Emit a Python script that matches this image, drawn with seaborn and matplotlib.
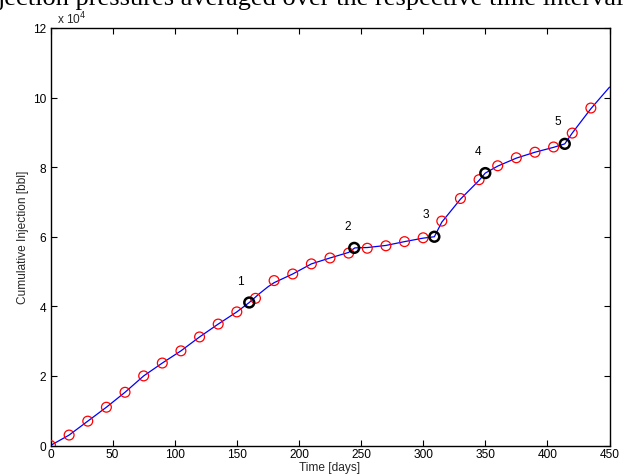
import numpy as np
import pandas as pd
import matplotlib
matplotlib.use("Agg")
import matplotlib.pyplot as plt
import seaborn as sns

# --- data (cumulative injection in units of 1e4 bbl) ---
red_t = [0, 15, 30, 45, 60, 75, 90, 105, 120, 135, 150, 165, 180, 195, 210, 225,
         240, 255, 270, 285, 300, 315, 330, 345, 360, 375, 390, 405, 420, 435]
red_y = [0.0, 0.30, 0.70, 1.10, 1.53, 2.00, 2.37, 2.72, 3.12, 3.49, 3.84, 4.23,
         4.74, 4.93, 5.22, 5.39, 5.53, 5.67, 5.74, 5.86, 5.97, 6.45, 7.10, 7.64,
         8.04, 8.27, 8.43, 8.58, 8.98, 9.70]

line_t = [0, 15, 30, 45, 60, 75, 90, 105, 120, 135, 150, 160, 168, 175, 180, 195,
          210, 225, 240, 245, 255, 270, 285, 300, 309, 315, 330, 345, 350, 360,
          375, 390, 405, 414, 420, 435, 450]
line_y = [0.0, 0.30, 0.70, 1.10, 1.53, 2.00, 2.37, 2.72, 3.12, 3.49, 3.84, 4.11,
          4.36, 4.56, 4.68, 4.93, 5.22, 5.39, 5.55, 5.68, 5.69, 5.75, 5.86, 5.96,
          6.00, 6.42, 7.08, 7.62, 7.83, 8.03, 8.26, 8.43, 8.57, 8.67, 8.98, 9.68,
          10.30]

black_t = [160, 244.5, 309, 350, 414]
black_y = [4.11, 5.68, 6.00, 7.83, 8.67]
black_lbl = ["1", "2", "3", "4", "5"]
lbl_t = [153, 239, 302, 344, 408]
lbl_y = [4.73, 6.30, 6.66, 8.46, 9.34]

x_ticks = [0, 50, 100, 150, 200, 250, 300, 350, 400, 450]
y_ticks = [0, 2, 4, 6, 8, 10, 12]

sns.set_style("white")
plt.rcParams["font.family"] = ["Liberation Sans", "DejaVu Sans"]

FS = 8.6
W, H = 629, 477
fig = plt.figure(figsize=(W / 100, H / 100), dpi=100)
ax = fig.add_axes([50.5 / W, 1 - 446.5 / H, 559 / W, 417.5 / H])

line_df = pd.DataFrame({"t": line_t, "y": line_y})
red_df = pd.DataFrame({"t": red_t, "y": red_y})
blk_df = pd.DataFrame({"t": black_t, "y": black_y})

sns.lineplot(data=line_df, x="t", y="y", ax=ax, color="#0000ff", lw=0.9,
             sort=False, estimator=None, zorder=2)
sns.scatterplot(data=red_df, x="t", y="y", ax=ax, s=50, marker="o",
                facecolors="none", edgecolor="#ff0000", linewidth=0.9, zorder=3)
sns.scatterplot(data=blk_df, x="t", y="y", ax=ax, s=50, marker="o",
                facecolors="none", edgecolor="black", linewidth=1.8, zorder=4)

for lt, ly, s in zip(lbl_t, lbl_y, black_lbl):
    ax.text(lt, ly, s, fontsize=FS, ha="center", va="center", color="black")

ax.set_xlim(0, 450)
ax.set_ylim(0, 12)
ax.set_xticks(x_ticks)
ax.set_yticks(y_ticks)
ax.set_xticklabels([str(v) for v in x_ticks])
ax.set_yticklabels([str(v) for v in y_ticks])
ax.tick_params(direction="in", length=4, width=0.8, labelsize=FS, pad=3,
               top=True, right=True, bottom=True, left=True,
               labeltop=False, labelright=False, colors="black")
ax.tick_params(axis="x", pad=2)
for sp in ax.spines.values():
    sp.set_visible(True)
    sp.set_color("black")
    sp.set_linewidth(1.0)

ax.set_xlabel("Time [days]", fontsize=FS, labelpad=0.5)
ax.set_ylabel("Cumulative Injection [bbl]", fontsize=FS, labelpad=3)

ax.text(0.012, 1.005, r"x 10$^{4}$", transform=ax.transAxes, fontsize=FS,
        ha="left", va="bottom")

fig.text(-2 / W, 1 - 5 / H, "jection pressures averaged over the respective time interval",
         fontsize=19, family=["Liberation Serif", "DejaVu Serif"],
         ha="left", va="baseline", color="black")

fig.savefig("out.png", dpi=100, facecolor="white")
